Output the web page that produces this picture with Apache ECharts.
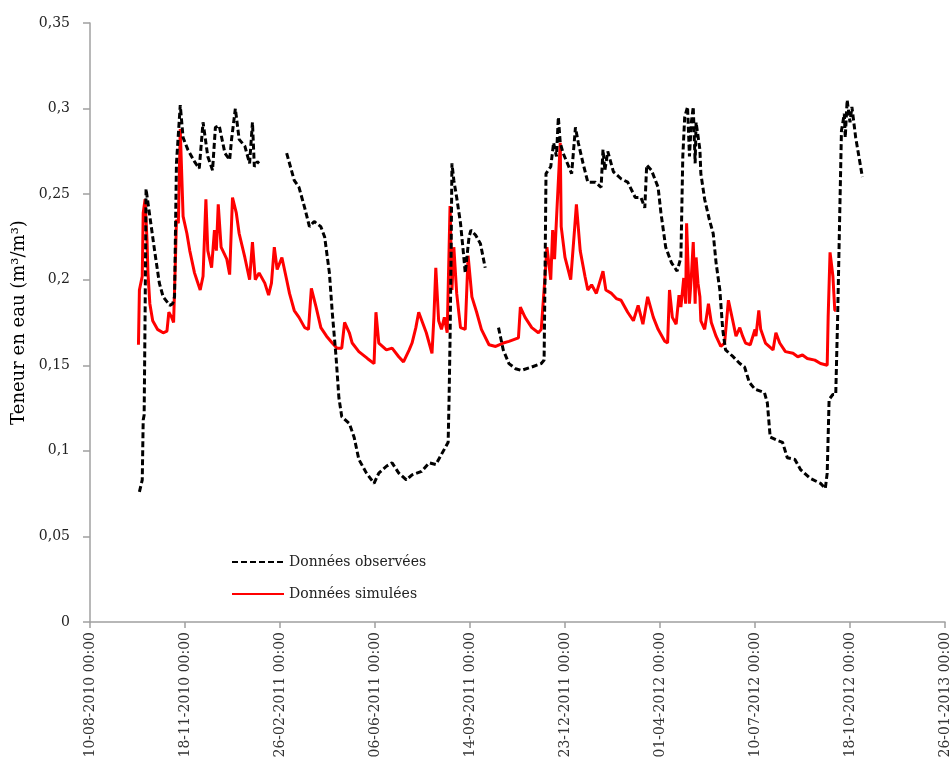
<!DOCTYPE html>
<html><head><meta charset="utf-8">
<script src="https://cdn.jsdelivr.net/npm/echarts@6/dist/echarts.min.js"></script>
<style>html,body{margin:0;padding:0;background:#fff}#c{width:952px;height:776px}</style>
</head><body><div id="c"></div>
<script>
// x values: days since 10-08-2010
const tickLabels = ["10-08-2010 00:00","18-11-2010 00:00","26-02-2011 00:00","06-06-2011 00:00","14-09-2011 00:00","23-12-2011 00:00","01-04-2012 00:00","10-07-2012 00:00","18-10-2012 00:00","26-01-2013 00:00"];
const yTicks = [0,0.05,0.1,0.15,0.2,0.25,0.3,0.35];
const seriesNames = ["Données observées","Données simulées"];

const obsSeg1 = [[52,0.076],[55,0.083],[56,0.118],[57,0.121],[58,0.18],[59,0.253],[63,0.237],[68,0.217],[73,0.198],[77,0.19],[84,0.185],[87,0.186],[89,0.19],[91,0.268],[95,0.302],[98,0.283],[103,0.276],[110,0.269],[115,0.265],[119,0.292],[124,0.272],[129,0.264],[132,0.289],[136,0.29],[142,0.274],[147,0.27],[149,0.282],[153,0.300],[157,0.282],[163,0.278],[168,0.268],[171,0.292],[173,0.266],[176,0.269],[178,0.268]];
const obsSeg2 = [[207,0.274],[215,0.258],[220,0.254],[226,0.242],[231,0.231],[236,0.234],[243,0.231],[247,0.225],[252,0.204],[255,0.181],[259,0.155],[262,0.131],[265,0.12],[273,0.116],[278,0.108],[283,0.095],[291,0.087],[299,0.081],[304,0.087],[312,0.091],[318,0.093],[325,0.087],[333,0.083],[339,0.086],[349,0.088],[357,0.093],[364,0.092],[370,0.098],[377,0.105],[378,0.131],[379,0.165],[380,0.21],[381,0.268],[383,0.258],[386,0.248],[390,0.233],[393,0.216],[395,0.204],[399,0.225],[401,0.229],[406,0.226],[411,0.221],[416,0.207]];
const obsSeg3 = [[430,0.172],[435,0.159],[441,0.151],[448,0.148],[454,0.147],[465,0.149],[475,0.151],[478,0.153],[479,0.204],[480,0.262],[485,0.266],[488,0.28],[491,0.272],[493,0.295],[495,0.28],[498,0.274],[504,0.266],[507,0.262],[511,0.289],[514,0.28],[519,0.268],[524,0.257],[532,0.257],[538,0.254],[540,0.276],[542,0.264],[545,0.275],[551,0.263],[559,0.259],[566,0.257],[574,0.248],[580,0.248],[584,0.242],[586,0.267],[591,0.264],[598,0.254],[601,0.239],[606,0.219],[612,0.21],[618,0.205],[622,0.213],[624,0.272],[626,0.295],[629,0.301],[631,0.272],[633,0.292],[635,0.301],[637,0.268],[638,0.292],[642,0.276],[643,0.262],[647,0.247],[652,0.235],[656,0.227],[659,0.21],[663,0.194],[666,0.171],[669,0.159],[677,0.155],[684,0.151],[689,0.149],[694,0.14],[700,0.136],[710,0.134],[713,0.128],[716,0.108],[724,0.106],[729,0.105],[734,0.096],[742,0.095],[748,0.089],[758,0.084],[769,0.081],[774,0.078],[776,0.087],[778,0.13],[782,0.133],[785,0.133],[787,0.178],[789,0.233],[791,0.287],[794,0.297],[795,0.283],[797,0.305],[800,0.292],[802,0.301],[806,0.283],[810,0.27],[813,0.26]];

const simData = [[51,0.162],[52,0.194],[55,0.202],[56,0.239],[58,0.247],[60,0.223],[61,0.204],[63,0.186],[66,0.176],[71,0.171],[77,0.169],[81,0.17],[83,0.181],[86,0.178],[88,0.175],[90,0.213],[91,0.235],[93,0.233],[95,0.288],[98,0.237],[102,0.227],[105,0.217],[110,0.204],[113,0.199],[116,0.194],[119,0.202],[122,0.247],[124,0.217],[128,0.207],[131,0.229],[133,0.217],[135,0.244],[138,0.219],[144,0.212],[147,0.203],[150,0.248],[154,0.239],[157,0.227],[163,0.213],[168,0.2],[171,0.222],[174,0.2],[178,0.204],[184,0.198],[188,0.191],[191,0.198],[194,0.219],[197,0.206],[202,0.213],[207,0.2],[210,0.192],[215,0.182],[220,0.178],[226,0.172],[230,0.171],[233,0.195],[238,0.184],[243,0.172],[249,0.167],[255,0.163],[260,0.16],[265,0.16],[268,0.175],[273,0.169],[276,0.163],[283,0.158],[292,0.154],[299,0.151],[301,0.181],[304,0.163],[312,0.159],[318,0.16],[325,0.155],[330,0.152],[336,0.159],[339,0.163],[343,0.172],[346,0.181],[354,0.169],[360,0.157],[362,0.178],[364,0.207],[367,0.176],[370,0.171],[373,0.178],[376,0.169],[379,0.243],[381,0.194],[383,0.219],[386,0.192],[390,0.172],[395,0.171],[398,0.214],[402,0.19],[407,0.181],[412,0.171],[420,0.162],[427,0.161],[435,0.163],[441,0.164],[451,0.166],[453,0.184],[458,0.178],[465,0.172],[472,0.169],[475,0.171],[479,0.202],[481,0.219],[485,0.2],[487,0.229],[489,0.212],[491,0.235],[495,0.28],[496,0.231],[500,0.213],[506,0.2],[510,0.229],[512,0.244],[516,0.217],[521,0.202],[524,0.194],[528,0.197],[533,0.192],[540,0.205],[543,0.194],[549,0.192],[554,0.189],[559,0.188],[566,0.181],[572,0.176],[577,0.185],[582,0.174],[587,0.19],[593,0.178],[598,0.171],[605,0.164],[608,0.163],[610,0.194],[613,0.178],[617,0.174],[620,0.191],[622,0.184],[625,0.201],[627,0.186],[628,0.233],[631,0.186],[633,0.202],[635,0.222],[637,0.186],[638,0.213],[640,0.198],[642,0.19],[643,0.176],[647,0.171],[651,0.186],[654,0.175],[659,0.167],[664,0.161],[668,0.163],[672,0.188],[677,0.175],[680,0.167],[684,0.172],[687,0.167],[690,0.163],[695,0.162],[700,0.171],[701,0.167],[704,0.182],[706,0.171],[711,0.163],[719,0.159],[722,0.169],[726,0.163],[732,0.158],[740,0.157],[745,0.155],[750,0.156],[755,0.154],[763,0.153],[769,0.151],[776,0.15],[777,0.178],[779,0.216],[782,0.202],[784,0.182],[785,0.182]];

const obsData = obsSeg1.concat([[192,'-']], obsSeg2, [[423,'-']], obsSeg3);

const chart = echarts.init(document.getElementById('c'));
const axisCol = '#A0A0A0';
chart.setOption({
  animation: false,
  backgroundColor: '#fff',
  grid: {left: 90, right: 4, top: 23, bottom: 154, containLabel: false},
  legend: {
    orient: 'vertical', left: 226, top: 550, itemWidth: 52, itemHeight: 14, itemGap: 18,
    data: seriesNames,
    itemStyle: {opacity: 0},
    textStyle: {fontFamily: 'DejaVu Serif', fontSize: 14, color: '#222'}
  },
  xAxis: {
    type: 'value', min: 0, max: 900, interval: 100,
    axisLine: {lineStyle: {color: axisCol, width: 1.5}},
    axisTick: {show: true, length: 6, lineStyle: {color: axisCol, width: 1.5}},
    splitLine: {show: false},
    axisLabel: {
      rotate: 90, margin: 10, fontFamily: 'DejaVu Serif', fontSize: 14, color: '#333',
      formatter: v => tickLabels[Math.round(v / 100)] || ''
    }
  },
  yAxis: {
    type: 'value', min: 0, max: 0.35, interval: 0.05,
    name: 'Teneur en eau (m³/m³)', nameLocation: 'middle', nameGap: 61,
    nameTextStyle: {fontFamily: 'DejaVu Serif', fontSize: 18, color: '#000'},
    axisLine: {show: true, lineStyle: {color: axisCol, width: 1.5}},
    axisTick: {show: true, length: 7, lineStyle: {color: axisCol, width: 1.5}},
    splitLine: {show: false},
    axisLabel: {
      margin: 20, fontFamily: 'DejaVu Serif', fontSize: 14, color: '#222',
      formatter: v => { const i = yTicks.findIndex(t => Math.abs(t - v) < 1e-9); return (i >= 0 ? String(yTicks[i]) : String(v)).replace('.', ','); }
    }
  },
  series: [
    {
      name: seriesNames[0], type: 'line', data: obsData, symbol: 'none', showSymbol: false,
      connectNulls: false, z: 3,
      lineStyle: {color: '#000', width: 3, type: [6, 3]},
      itemStyle: {color: '#000'}
    },
    {
      name: seriesNames[1], type: 'line', data: simData, symbol: 'none', showSymbol: false, z: 2,
      lineStyle: {color: '#FF0000', width: 3},
      itemStyle: {color: '#FF0000'}
    }
  ]
});
</script>
</body></html>
